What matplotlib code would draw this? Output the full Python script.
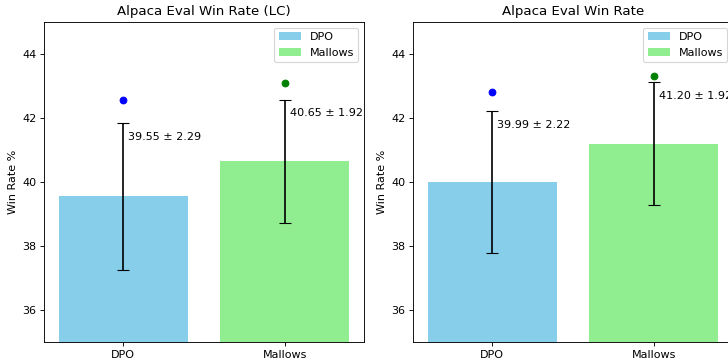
import matplotlib
matplotlib.use("Agg")
import matplotlib.pyplot as plt

categories = ["DPO", "Mallows"]
titles = ["Alpaca Eval Win Rate (LC)", "Alpaca Eval Win Rate"]
means_lc = [39.55, 40.65]
stds_lc = [2.29, 1.92]
dots_lc = [42.55, 43.10]
means_wr = [39.99, 41.20]
stds_wr = [2.22, 1.92]
dots_wr = [42.80, 43.30]
bar_colors = ["skyblue", "lightgreen"]
dot_colors = ["blue", "green"]

fig = plt.figure(figsize=(9.1, 4.5), dpi=80)
W, H = 728, 360
ax_rects = [
    [44 / W, 18 / H, 320 / W, 320 / H],
    [413 / W, 18 / H, 320 / W, 320 / H],
]
data = [(means_lc, stds_lc, dots_lc), (means_wr, stds_wr, dots_wr)]

for rect, title, (means, stds, dots) in zip(ax_rects, titles, data):
    ax = fig.add_axes(rect)
    xs = list(range(len(categories)))
    for i, cat in enumerate(categories):
        ax.bar(i, means[i], color=bar_colors[i], label=cat)
    ax.errorbar(xs, means, yerr=stds, fmt="none", ecolor="black", capsize=5)
    for i in xs:
        ax.plot(i, dots[i], "o", color=dot_colors[i])
        ax.text(i + 0.03, means[i] + stds[i] - 0.27, f"{means[i]:.2f} ± {stds[i]:.2f}",
                ha="left", va="top", fontsize=10)
    ax.set_xticks(xs)
    ax.set_xticklabels(categories)
    ax.set_ylim(35, 45)
    ax.set_yticks([36, 38, 40, 42, 44])
    ax.set_ylabel("Win Rate %")
    ax.set_title(title)
    ax.legend(loc="upper right")

fig.savefig("out.png", dpi=80)
